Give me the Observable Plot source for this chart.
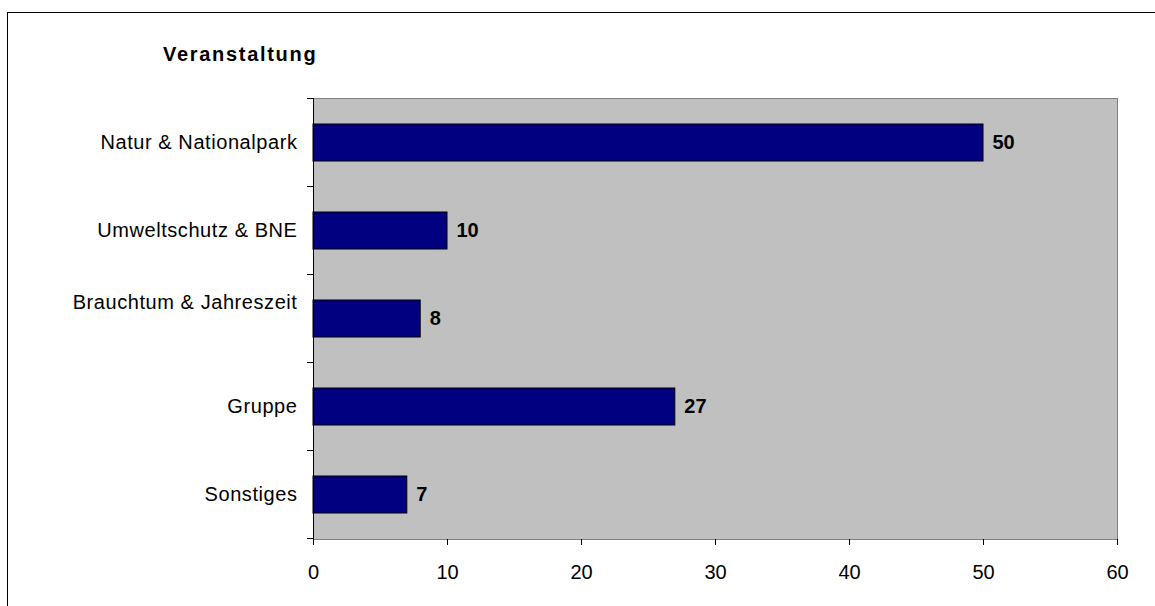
<!DOCTYPE html>
<html>
<head>
<meta charset="utf-8">
<script src="https://cdn.jsdelivr.net/npm/d3@7"></script>
<script src="https://cdn.jsdelivr.net/npm/@observablehq/plot@0.6"></script>
<style>
  html, body { margin: 0; padding: 0; background: #fff; overflow: hidden; }
  #chart { position: relative; width: 1155px; height: 606px; font-family: "Liberation Sans", Arial, sans-serif; }
  #border { position: absolute; left: 7px; top: 12px; width: 1160px; height: 610px; border: 1px solid #000; box-sizing: border-box; pointer-events: none; }
  #title { position: absolute; left: 163px; top: 44px; font-size: 20px; line-height: 20px; font-weight: bold; letter-spacing: 1.7px; color: #000; }
  #chart svg { position: absolute; left: 0; top: 0; }
  #chart g[aria-label="y-axis tick label"] text { letter-spacing: 0.57px; }
</style>
</head>
<body>
<div id="chart">
  <div id="border"></div>
  <div id="title">Veranstaltung</div>
</div>
<script>
// Event categories and number of events per category
const categories = [
  "Natur & Nationalpark",
  "Umweltschutz & BNE",
  "Brauchtum & Jahreszeit",
  "Gruppe",
  "Sonstiges"
];
const counts = [50, 10, 8, 27, 7];
const xTicks = [0, 10, 20, 30, 40, 50, 60];

const data = categories.map((category, i) => ({category, value: counts[i]}));

// band layout: bar takes 42% of each category slot, centred in it
const PAD_INNER = 0.58;
const PAD_OUTER = PAD_INNER / 2;

// category labels drawn one line higher (wrapped label in the original layout)
const raisedLabels = ["Brauchtum & Jahreszeit"];

// small outward ticks at the boundaries between category slots
function bandBoundaryTicks(index, scales, values, dimensions) {
  const y = scales.y;
  const step = y(categories[1]) - y(categories[0]);
  const x0 = dimensions.marginLeft;
  const edges = categories.map(c => y(c) - PAD_OUTER * step);
  edges.push(edges[edges.length - 1] + step);
  const g = d3.create("svg:g").attr("stroke", "#000").attr("stroke-width", 1);
  for (const e of edges) {
    const yy = Math.round(e) + 0.5;
    g.append("line").attr("x1", x0 - 6).attr("x2", x0).attr("y1", yy).attr("y2", yy);
  }
  return g.node();
}

const chart = Plot.plot({
  width: 1155,
  height: 606,
  marginLeft: 313,
  marginRight: 38,
  marginTop: 98,
  marginBottom: 67,
  style: {
    fontFamily: "'Liberation Sans', Arial, sans-serif",
    fontSize: "20px",
    background: "transparent",
    color: "#000"
  },
  x: {domain: [0, 60], label: null},
  y: {domain: categories, paddingInner: PAD_INNER, paddingOuter: PAD_OUTER, label: null},
  marks: [
    Plot.frame({fill: "#C0C0C0", stroke: "#808080"}),
    Plot.barX(data, {x: "value", y: "category", fill: "#000080", stroke: "#000", strokeWidth: 1}),
    Plot.text(data, {
      x: "value", y: "category", text: d => String(d.value),
      textAnchor: "start", dx: 9, fontWeight: "bold", fill: "#000"
    }),
    Plot.ruleX([0], {stroke: "#000"}),
    Plot.axisX({ticks: xTicks, tickSize: 6, tickPadding: 19, line: true, stroke: "#000", fill: "#000", label: null}),
    Plot.axisY({ticks: categories.filter(c => !raisedLabels.includes(c)), tickSize: 0, tickPadding: 16, fill: "#000", label: null}),
    Plot.axisY({ticks: raisedLabels, tickSize: 0, tickPadding: 16, dy: -16, fill: "#000", label: null}),
    bandBoundaryTicks
  ]
});

document.getElementById("chart").prepend(chart);
</script>
</body>
</html>
